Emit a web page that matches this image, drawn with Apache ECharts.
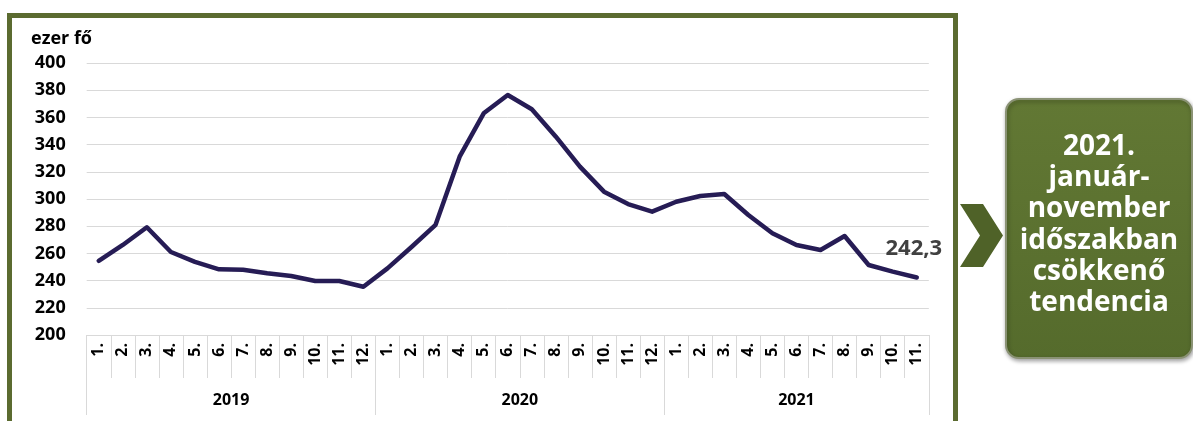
<!DOCTYPE html>
<html>
<head>
<meta charset="utf-8">
<script src="https://cdn.jsdelivr.net/npm/echarts@6/dist/echarts.min.js"></script>
<style>
html,body{margin:0;padding:0;background:#fff;}
#c{width:1193px;height:421px;}
</style>
</head>
<body>
<div id="c"></div>
<script>
// ---- data ----
const years = ['2019', '2020', '2021'];
const monthsPerYear = [12, 12, 11];
const values = [
  254.5, 266.2, 279.2, 261, 253.8, 248.3, 248, 245.4, 243.4, 239.7, 239.7, 235.5,
  249, 264.7, 281, 331.1, 363, 376.5, 366, 345.8, 323.8, 305.4, 296.3, 290.7,
  298, 302.2, 303.7, 288.2, 274.8, 266.2, 262.5, 272.8, 251.5, 246.6, 242.3
];
const yTicks = { min: 200, max: 400, step: 20 };
const unitLabel = 'ezer fő';
const boxLines = ['2021.', 'január-', 'november', 'időszakban', 'csökkenő', 'tendencia'];

// ---- derived category arrays ----
const monthLabels = [];
monthsPerYear.forEach(n => { for (let m = 1; m <= n; m++) monthLabels.push(m + '.'); });
const total = monthLabels.length;
// year axis on half-month boundaries (boundaryGap false)
const halfCount = total * 2 + 1;
const yearAxisData = new Array(halfCount).fill('');
const yearBoundaries = [0];
const yearCenters = [];
let acc = 0;
monthsPerYear.forEach((n, i) => {
  const c = acc * 2 + n; // center in half units
  yearCenters.push(c);
  yearAxisData[c] = years[i];
  acc += n;
  yearBoundaries.push(acc * 2);
});

const seriesData = values.map((v, i) => i === values.length - 1 ? {
  value: v,
  label: {
    show: true, position: 'top', offset: [-3, -12],
    formatter: p => String(p.value).replace('.', ','),
    fontFamily: 'Open Sans', fontWeight: 'bold', fontSize: 22, color: '#404040'
  }
} : v);

const chart = echarts.init(document.getElementById('c'), null, { renderer: 'canvas' });
const grid = { left: 86.7, right: 264.2, top: 63, bottom: 86 };
const gray = '#d9d9d9';
const font = 'Open Sans';

chart.setOption({
  animation: false,
  backgroundColor: '#ffffff',
  title: {
    text: unitLabel, left: 31, top: 30, padding: 0,
    textStyle: { fontFamily: font, fontWeight: 'bold', fontSize: 18, color: '#000' }
  },
  grid: grid,
  xAxis: [
    {
      type: 'category', data: monthLabels, boundaryGap: true, position: 'bottom',
      axisLine: { show: true, lineStyle: { color: gray, width: 1 } },
      axisTick: { show: true, interval: 0, length: 43, lineStyle: { color: gray } },
      axisLabel: {
        interval: 0, rotate: 90, margin: 8,
        fontFamily: font, fontWeight: 'bold', fontSize: 16, color: '#000'
      },
      splitLine: { show: false }
    },
    {
      type: 'category', data: yearAxisData, boundaryGap: false, position: 'bottom',
      axisLine: { show: false },
      axisTick: {
        show: true, length: 80, lineStyle: { color: gray },
        interval: (idx) => yearBoundaries.indexOf(idx) >= 0
      },
      axisLabel: {
        show: true, margin: 57,
        interval: (idx) => yearCenters.indexOf(idx) >= 0,
        fontFamily: font, fontWeight: 'bold', fontSize: 16, color: '#000'
      },
      splitLine: { show: false }
    }
  ],
  yAxis: {
    type: 'value', min: yTicks.min, max: yTicks.max, interval: yTicks.step,
    axisLine: { show: false }, axisTick: { show: false },
    axisLabel: { margin: 21, fontFamily: font, fontWeight: 'bold', fontSize: 18, color: '#000' },
    splitLine: { show: true, lineStyle: { color: gray, width: 1 } }
  },
  series: [{
    type: 'line', xAxisIndex: 0, data: seriesData,
    symbol: 'circle', symbolSize: 1, showSymbol: true,
    itemStyle: { color: '#261c55' },
    lineStyle: { color: '#261c55', width: 4.5, join: 'round', cap: 'round' },
    z: 5
  }],
  graphic: [
    {
      type: 'rect', z: 10,
      shape: { x: 9.5, y: 15.5, width: 946, height: 430 },
      style: { fill: 'none', stroke: '#5b6b30', lineWidth: 5 }
    },
    {
      type: 'polygon', z: 10,
      shape: { points: [[960, 204], [983, 204], [1003, 235.5], [983, 267], [960, 267], [980, 235.5]] },
      style: { fill: '#4f6228' }
    },
    {
      type: 'rect', z: 10,
      shape: { x: 1006, y: 99, width: 186, height: 259, r: 13 },
      style: {
        fill: new echarts.graphic.LinearGradient(0, 0, 0, 1, [
          { offset: 0, color: '#627834' },
          { offset: 1, color: '#556b2c' }
        ]),
        stroke: '#8a9274', lineWidth: 2,
        shadowBlur: 4, shadowColor: 'rgba(0,0,0,0.35)', shadowOffsetX: 1, shadowOffsetY: 2
      }
    },
    {
      type: 'text', z: 11,
      x: 1099, y: 225,
      style: {
        text: boxLines.join('\n'),
        align: 'center', verticalAlign: 'middle',
        fontFamily: font, fontWeight: 'bold', fontSize: 28, lineHeight: 31.3,
        fill: '#ffffff'
      }
    }
  ]
});
</script>
</body>
</html>
